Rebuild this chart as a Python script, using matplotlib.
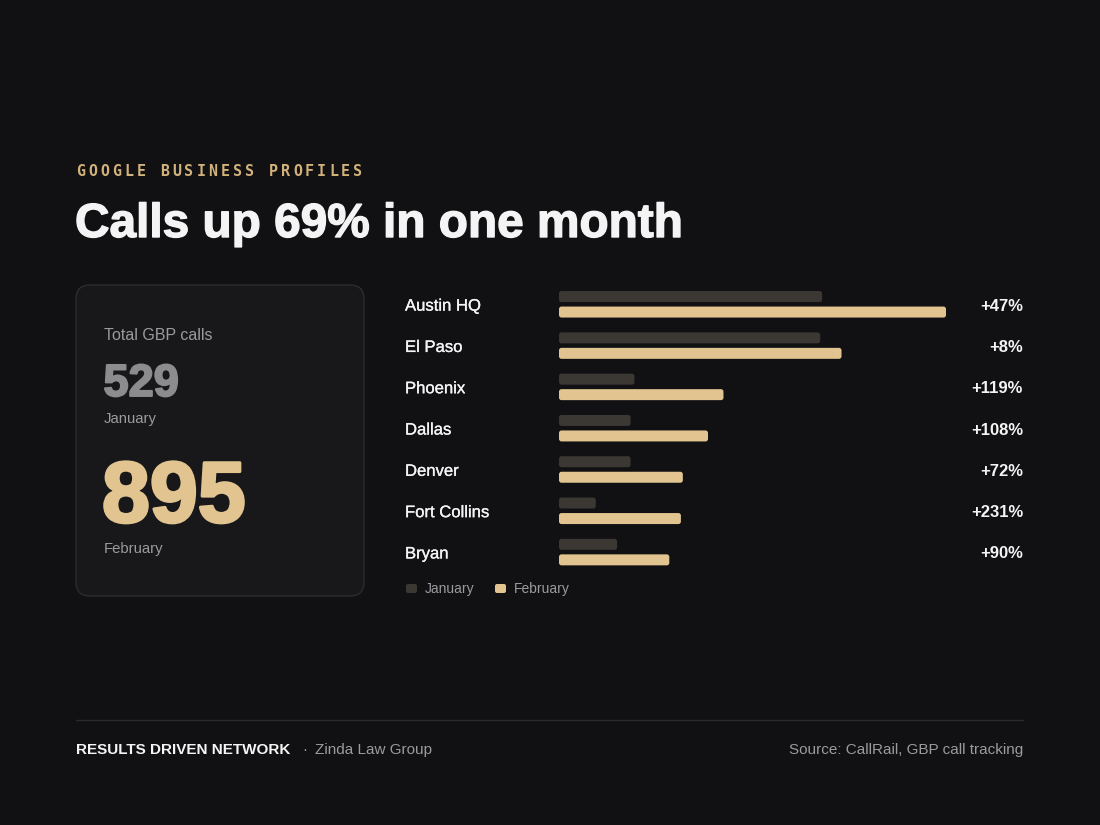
import matplotlib
matplotlib.use("Agg")
import matplotlib.pyplot as plt
from matplotlib.patches import FancyBboxPatch
from matplotlib.lines import Line2D
import matplotlib.transforms as mtransforms
import matplotlib.patheffects as pe

# data
locations = ["Austin HQ", "El Paso", "Phoenix", "Dallas", "Denver", "Fort Collins", "Bryan"]
jan_calls = [136, 135, 39, 37, 37, 19, 30]
feb_calls = [200, 146, 85, 77, 64, 63, 57]
pct_labels = ["+47%", "+8%", "+119%", "+108%", "+72%", "+231%", "+90%"]
total_jan = 529
total_feb = 895

BG = "#111013"
CARD = "#18171a"
CARD_EDGE = "#2c2b2e"
GOLD = "#e1c48f"
GOLD_TXT = "#d2b27b"
JAN_C = "#3b3834"
GREY = "#9b9a9d"
WHITE = "#f4f4f4"

W, H = 1100, 825
plt.rcParams['font.family'] = ['Liberation Sans', 'DejaVu Sans']

fig = plt.figure(figsize=(11, 8.25), dpi=100, facecolor=BG)


def fx(px):
    return px / W


def fy(py):
    return 1 - py / H


def heavy(c, w):
    # thicken glyphs a little, the reference face is heavier than Liberation Bold
    return [pe.withStroke(linewidth=w, foreground=c)]


# header
sub = "GOOGLE BUSINESS PROFILES"
for k, ch in enumerate(sub):
    fig.text(fx(76 + k * 12.05), fy(176), ch, color=GOLD_TXT, fontsize=10.8,
             family="DejaVu Sans Mono", fontweight="bold", va="baseline")
fig.text(fx(75), fy(237), "Calls up 69% in one month", color=WHITE,
         fontsize=34.4, fontweight="bold", va="baseline",
         path_effects=heavy(WHITE, 1.0))

# summary card
card = FancyBboxPatch((fx(76), fy(596)), fx(364) - fx(76), fy(285) - fy(596),
                      boxstyle="round,pad=0,rounding_size=%f" % (14 / W),
                      mutation_aspect=W / H, transform=fig.transFigure,
                      fc=CARD, ec=CARD_EDGE, lw=1)
fig.add_artist(card)
fig.text(fx(104), fy(340), "Total GBP calls", color=GREY, fontsize=11.5, va="baseline")
fig.text(fx(103.5), fy(396), str(total_jan), color="#8c8b8e", fontsize=32.5,
         fontweight="bold", va="baseline", path_effects=heavy("#8c8b8e", 1.4))
fig.text(fx(104), fy(423), "January", color=GREY, fontsize=10.7, va="baseline")
fig.text(fx(102), fy(522), str(total_feb), color=GOLD, fontsize=62,
         fontweight="bold", va="baseline", path_effects=heavy(GOLD, 2.2))
fig.text(fx(104), fy(553), "February", color=GREY, fontsize=10.7, va="baseline")

# bars
row_h = 41.3
ax_top, ax_left, ax_right = 284, 559, 946
n = len(locations)
ax = fig.add_axes([fx(ax_left), fy(ax_top + n * row_h), fx(ax_right) - fx(ax_left), n * row_h / H])
ax.set_facecolor("none")
ax.set_xlim(0, max(feb_calls))
ax.set_ylim(n - 0.5, -0.5)
ax.axis("off")

ys = list(range(n))
bar_h = 11 / row_h
jan_bars = ax.barh([y - 8.1 / row_h for y in ys], jan_calls, height=bar_h, color=JAN_C)
feb_bars = ax.barh([y + 7.4 / row_h for y in ys], feb_calls, height=bar_h, color=GOLD)

px_x = (ax_right - ax_left) / max(feb_calls)
asp = px_x / row_h
r = 2.5 / px_x
for b in list(jan_bars) + list(feb_bars):
    p = FancyBboxPatch((b.get_x(), b.get_y()), b.get_width(), b.get_height(),
                       boxstyle="round,pad=0,rounding_size=%f" % r,
                       mutation_aspect=asp, fc=b.get_facecolor(), ec="none")
    ax.add_patch(p)
    b.remove()

blend = mtransforms.blended_transform_factory(fig.transFigure, ax.transData)
down = mtransforms.ScaledTranslation(0, -6 / 100, fig.dpi_scale_trans)
for y, name, pct in zip(ys, locations, pct_labels):
    ax.text(fx(405), y, name, color=WHITE, fontsize=12, va="baseline",
            transform=blend + down, clip_on=False,
            path_effects=heavy(WHITE, 0.2))
    ax.text(fx(1023), y, pct, color=WHITE, fontsize=12, fontweight="bold",
            ha="right", va="baseline", transform=blend + down, clip_on=False)

# legend
for x0, lab, c in [(406, "January", JAN_C), (495, "February", GOLD)]:
    sq = FancyBboxPatch((fx(x0), fy(593)), 11 / W, 9 / H,
                        boxstyle="round,pad=0,rounding_size=%f" % (2 / W),
                        mutation_aspect=W / H, transform=fig.transFigure,
                        fc=c, ec="none")
    fig.add_artist(sq)
    fig.text(fx(x0 + 19), fy(593), lab, color=GREY, fontsize=10, va="baseline")

# footer
fig.add_artist(Line2D([fx(76), fx(1023)], [fy(720), fy(720)], color="#2a292c", lw=1))
fig.text(fx(76), fy(754), "RESULTS DRIVEN NETWORK", color=WHITE, fontsize=11,
         fontweight="bold", va="baseline")
fig.text(fx(302), fy(754), "·", color=GREY, fontsize=11, va="baseline")
fig.text(fx(315), fy(754), "Zinda Law Group", color=GREY, fontsize=11, va="baseline")
fig.text(fx(1023), fy(754), "Source: CallRail, GBP call tracking", color=GREY,
         fontsize=11, ha="right", va="baseline")

fig.savefig("out.png", dpi=100, facecolor=BG)
